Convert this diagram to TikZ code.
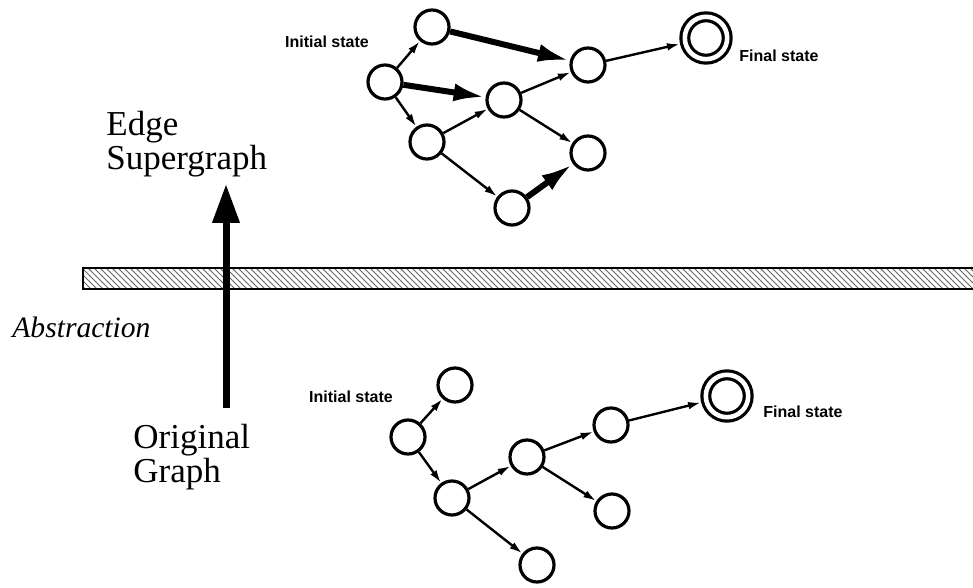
\documentclass[tikz,border=0pt]{standalone}
\usepackage{fontspec}
\setmainfont{Liberation Serif}
\setsansfont{Liberation Sans}
\usepackage{tikz}
\usetikzlibrary{positioning,arrows.meta,patterns}

\begin{document}
\begin{tikzpicture}[x=0.5pt, y=-0.5pt,
    stnode/.style={draw, circle, line width=1.6pt, minimum size=17pt, inner sep=0pt},
    finstate/.style={draw, circle, line width=1.6pt, double, double distance=2.3pt,
                     minimum size=21.2pt, inner sep=0pt, outer sep=2.75pt},
    lightedge/.style={line width=1.2pt, -{Latex[length=6.5pt,width=3.8pt]}},
    heavyedge/.style={line width=3pt, -{Latex[length=16pt,width=9pt]}},
    tag/.style={font=\sffamily\bfseries\fontsize{8}{9.6}\selectfont, inner sep=0pt},
    biglabel/.style={font=\fontsize{17.5}{17}\selectfont, align=left, inner sep=0pt}]
    \useasboundingbox (0,0) rectangle (973,588);

    % Abstraction barrier
    \draw[line width=1pt, pattern=north west lines, pattern color=black!60]
        (83,268) rectangle (990,289);
    \node[font=\itshape\fontsize{14.8}{17}\selectfont, anchor=west, inner sep=0pt]
        (abstr) at (12,327) {Abstraction};

    % Abstraction direction
    \coordinate (up-from) at (226,408);
    \coordinate (up-to) at (226,184);
    \draw[line width=3.5pt, -{Triangle[length=19.5pt,width=13pt]}] (up-from) -- (up-to);
    \node[biglabel, anchor=north west] (superlbl) at (106,111) {Edge\\Supergraph};
    \node[biglabel, anchor=north west] (origlbl) at (133,424) {Original\\Graph};

    % Edge supergraph
    \node[stnode] (s-init) at (385,82) {};
    \node[stnode] (s-a) at (432,27) {};
    \node[stnode] (s-b) at (504,100) {};
    \node[stnode] (s-c) at (427,142) {};
    \node[stnode] (s-d) at (588,65) {};
    \node[stnode] (s-e) at (588,153) {};
    \node[stnode] (s-f) at (512,208) {};
    \node[finstate] (s-fin) at (706,38) {};
    \node[tag] (s-inittag) at (327,42) {Initial state};
    \node[tag, anchor=west] (s-fintag) at (739,56) {Final state};

    \draw[lightedge] (s-init) -- (s-a);
    \draw[heavyedge] (s-init) -- (s-b);
    \draw[lightedge] (s-init) -- (s-c);
    \draw[heavyedge] (s-a) -- (s-d);
    \draw[lightedge] (s-c) -- (s-b);
    \draw[lightedge] (s-b) -- (s-d);
    \draw[lightedge] (s-b) -- (s-e);
    \draw[lightedge] (s-c) -- (s-f);
    \draw[heavyedge] (s-f) -- (s-e);
    \draw[lightedge] (s-d) -- (s-fin);

    % Original graph
    \node[stnode] (g-init) at (408,437) {};
    \node[stnode] (g-a) at (455,385) {};
    \node[stnode] (g-c) at (452,498) {};
    \node[stnode] (g-b) at (527,457) {};
    \node[stnode] (g-d) at (611,425) {};
    \node[stnode] (g-e) at (612,511) {};
    \node[stnode] (g-f) at (537,565) {};
    \node[finstate] (g-fin) at (727,396) {};
    \node[tag] (g-inittag) at (351,397) {Initial state};
    \node[tag, anchor=west] (g-fintag) at (763,412) {Final state};

    \draw[lightedge] (g-init) -- (g-a);
    \draw[lightedge] (g-init) -- (g-c);
    \draw[lightedge] (g-c) -- (g-b);
    \draw[lightedge] (g-c) -- (g-f);
    \draw[lightedge] (g-b) -- (g-d);
    \draw[lightedge] (g-b) -- (g-e);
    \draw[lightedge] (g-d) -- (g-fin);
\end{tikzpicture}
\end{document}
